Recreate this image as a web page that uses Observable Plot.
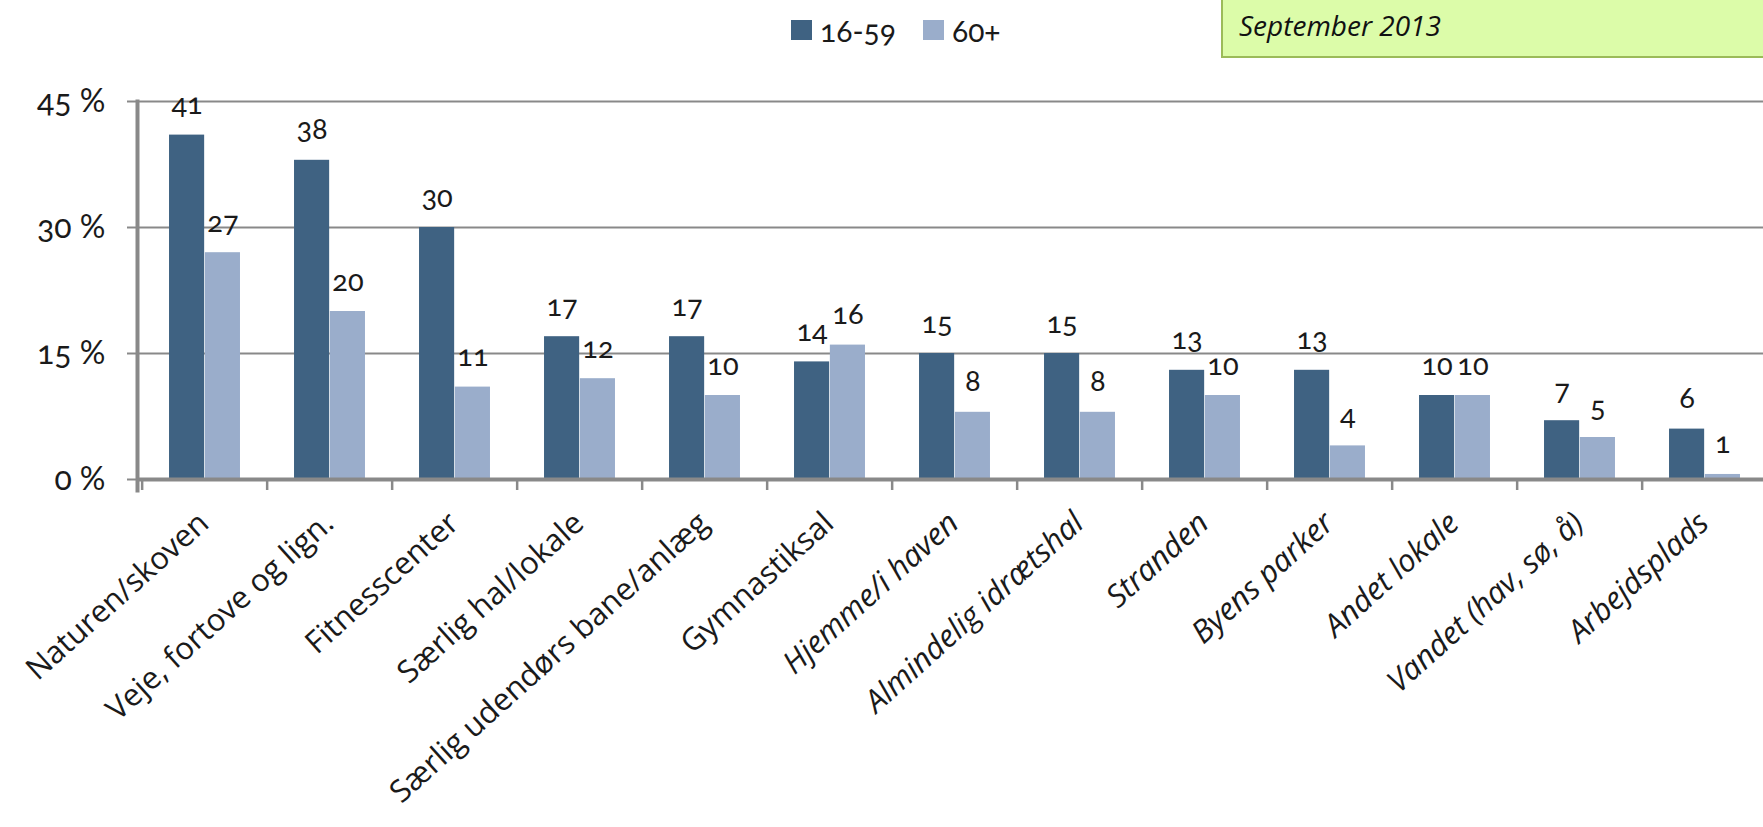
<!DOCTYPE html>
<html>
<head>
<meta charset="utf-8">
<script src="https://cdn.jsdelivr.net/npm/d3@7"></script>
<script src="https://cdn.jsdelivr.net/npm/@observablehq/plot@0.6"></script>
<style>
  html, body { margin: 0; padding: 0; background: #fff; overflow: hidden; width: 1763px; height: 827px; }
  #header { position: relative; height: 60px; }
  #legend { position: absolute; left: 791px; top: 12px; display: flex; align-items: center;
            font-family: Lato, sans-serif; font-size: 30px; color: #1a1a1a; font-variant-numeric: oldstyle-nums; }
  #legend .item { display: flex; align-items: center; margin-right: 27px; }
  #legend .sw { width: 21px; height: 20px; margin-right: 8px; }
  #box { position: absolute; left: 1221px; top: -4px; width: 600px; height: 62px; box-sizing: border-box;
         background: #dcfca9; border: 2px solid #9bbb59; }
  #box span { position: absolute; left: 16px; top: 8px; font-family: "Open Sans", sans-serif; font-style: italic;
              font-size: 28px; color: #111; }
  #chart svg text { font-variant-numeric: oldstyle-nums; }
</style>
</head>
<body>
<div id="header">
  <div id="legend"></div>
  <div id="box"><span>September 2013</span></div>
</div>
<div id="chart"></div>
<script>
const categories = [
  "Naturen/skoven", "Veje, fortove og lign.", "Fitnesscenter", "Særlig hal/lokale",
  "Særlig udendørs bane/anlæg", "Gymnastiksal", "Hjemme/i haven", "Almindelig idrætshal",
  "Stranden", "Byens parker", "Andet lokale", "Vandet (hav, sø, å)", "Arbejdsplads"
];
const series = ["16-59", "60+"];
const values1659 = [41, 38, 30, 17, 17, 14, 15, 15, 13, 13, 10, 7, 6];
const values60 = [27, 20, 11, 12, 10, 16, 8, 8, 10, 4, 10, 5, 0.6];
const yTicks = [0, 15, 30, 45];
const colors = ["#3f6282", "#9aadcb"];
const uprightLabels = categories.slice(0, 6);
const italicLabels = categories.slice(6);

const rows = categories.flatMap((c, i) => [
  {category: c, series: series[0], value: values1659[i]},
  {category: c, series: series[1], value: values60[i]}
]);

// legend
const legend = document.getElementById("legend");
series.forEach((s, i) => {
  const item = document.createElement("div");
  item.className = "item";
  const sw = document.createElement("div");
  sw.className = "sw";
  sw.style.background = colors[i];
  const t = document.createElement("span");
  t.textContent = s;
  item.append(sw, t);
  legend.append(item);
});

const W = 1771, H = 767, ML = 137, MR = 0, MT = 41, MB = 348;
const bw = (W - ML - MR) / categories.length;
const gray = "#898989";
const fmt = d3.format(".0f");

const plot = Plot.plot({
  width: W,
  height: H,
  marginLeft: ML,
  marginRight: MR,
  marginTop: MT,
  marginBottom: MB,
  style: {maxWidth: "none", overflow: "visible", background: "white"},
  x: {domain: categories, padding: 0},
  y: {domain: [0, 45]},
  color: {domain: series, range: colors},
  marks: [
    Plot.gridY([15, 30, 45], {stroke: gray, strokeOpacity: 1, strokeWidth: 2}),
    Plot.axisY(yTicks, {tickSize: 10, tickPadding: 22, tickFormat: d => `${d} %`, stroke: gray, strokeWidth: 2,
      fontSize: 32, fontFamily: "Lato", fill: "#1a1a1a", label: null}),
    Plot.barY(rows.filter(d => d.series === series[0]), {x: "category", y: "value", fill: "series",
      insetLeft: bw * 0.215, insetRight: bw * 0.5}),
    Plot.barY(rows.filter(d => d.series === series[1]), {x: "category", y: "value", fill: "series",
      insetLeft: bw * 0.5, insetRight: bw * 0.215}),
    Plot.text(rows.filter(d => d.series === series[0]), {x: "category", y: "value", text: d => fmt(d.value),
      dx: -bw * 0.1425, dy: -21, lineAnchor: "bottom", fontSize: 29, fontFamily: "Lato", fill: "#1a1a1a"}),
    Plot.text(rows.filter(d => d.series === series[1]), {x: "category", y: "value", text: d => fmt(d.value),
      dx: bw * 0.1425, dy: -21, lineAnchor: "bottom", fontSize: 29, fontFamily: "Lato", fill: "#1a1a1a"}),
    Plot.ruleY([0], {stroke: gray, strokeWidth: 4}),
    Plot.frame({anchor: "left", stroke: gray, strokeWidth: 4, insetBottom: -11}),
    Plot.axisX({tickSize: 11, tickFormat: () => "", dx: -bw / 2, stroke: gray, strokeWidth: 2.5, label: null}),
    Plot.axisX(uprightLabels, {tickSize: 0, tickRotate: -42, tickPadding: 3, dx: -1, dy: 36,
      fontSize: 31, fontFamily: "Open Sans", fill: "#1a1a1a", label: null}),
    Plot.axisX(italicLabels, {tickSize: 0, tickRotate: -42, tickPadding: 3, dx: -1, dy: 36,
      fontSize: 31, fontFamily: "Open Sans", fontStyle: "italic", fill: "#1a1a1a", label: null})
  ]
});
document.getElementById("chart").append(plot);
</script>
</body>
</html>
